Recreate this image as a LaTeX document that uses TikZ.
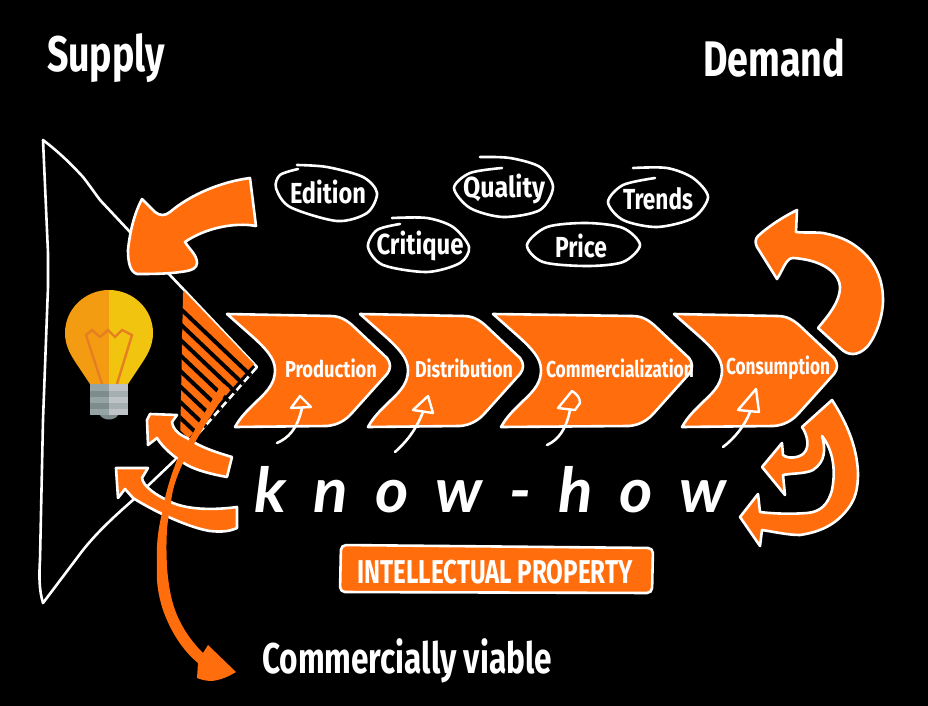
\documentclass[tikz,border=0pt]{standalone}
\usepackage{fontspec}
\usepackage{graphicx}
\setmainfont{Fira Sans}[UprightFont=* Medium,BoldFont=* Bold]
\newfontfamily\kh{Lato}
\newcommand{\fitw}[2]{\resizebox{#1}{\height}{\bfseries #2}}
\definecolor{brandorange}{HTML}{FF6D0D}
\definecolor{bulbL}{HTML}{F39C12}
\definecolor{bulbR}{HTML}{F1C40F}
\definecolor{filament}{HTML}{E67E22}
\definecolor{baseA}{HTML}{95A5A6}
\definecolor{baseB}{HTML}{7F8C8D}
\definecolor{baseC}{HTML}{BDC3C7}
\definecolor{baseD}{HTML}{A6AFB1}
\tikzset{
  blob/.style={fill=brandorange,draw=white,line width=2.6pt,line join=round},
  hairline/.style={draw=white,line width=2.6pt,line cap=round,line join=round},
  tipshape/.style={draw=white,line width=2.4pt,line join=round,fill=brandorange},
  lbl/.style={text=white,inner sep=0pt,font=\fontsize{29}{30}\selectfont},
  stagelbl/.style={text=white,inner sep=0pt,font=\fontsize{23}{24}\selectfont},
  headlbl/.style={text=white,inner sep=0pt,font=\fontsize{50}{52}\selectfont},
  ring/.style={draw=white,line width=2.6pt,line cap=round},
}
% #1 left offset, #2 right offset
\newcommand{\chevron}[2]{%
  \draw[blob] (#1,314) -- ({#2+103},316) .. controls ({#2+112},316) and ({#2+118},319) .. ({#2+125},325)
    -- ({#2+160},358) .. controls ({#2+164},363) and ({#2+164},369) .. ({#2+160},374)
    -- ({#2+125},413) .. controls ({#2+118},421) and ({#2+110},425) .. ({#2+100},426)
    -- ({#1+8},427) .. controls ({#1+14},416) and ({#1+22},409) .. ({#1+30},401)
    .. controls ({#1+42},390) and ({#1+48},382) .. ({#1+48},370)
    .. controls ({#1+48},358) and ({#1+38},348) .. ({#1+26},337) -- cycle;}
\begin{document}
\begin{tikzpicture}[x=1pt,y=-1pt]
\useasboundingbox (0,0) rectangle (928,706);
\fill[black] (0,0) rectangle (928,706);
% funnel outline
\draw[hairline] (43,140) .. controls (60,153) and (72,165) .. (83,177) .. controls (90,186) and (94,192) .. (100,200) -- (130,232) -- (168,273) -- (257,367) -- (177,458) -- (133,500) .. controls (110,520) and (95,535) .. (83,550) -- (43,603) .. controls (39,590) and (39,575) .. (40,560) -- (43,420) -- (48,287) -- (48,253) -- cycle;
% hatched neck
\fill[brandorange] (183,293) -- (184,291) -- (254,364) -- (250,368) -- (180,448) -- cycle;
\begin{scope}
\clip (185,290) -- (255,363) -- (258,368) -- (170,468) -- (182,300) -- cycle;
\clip (182,300) -- (250,366) -- (258,370) -- (175,465) -- (180,440) -- cycle;
\foreach \k in {0,...,10} \fill[black] (170,{296+\k*15.6}) -- (270,{391+\k*15.6}) -- (270,{396.5+\k*15.6}) -- (170,{301.5+\k*15.6}) -- cycle;
\end{scope}
% bulb
\fill[bulbL] (109,290) .. controls (85,290) and (65,309) .. (65,333) .. controls (65,345) and (70,354) .. (76,363) -- (90,384) -- (109,384) -- cycle;
\fill[bulbR] (109,290) .. controls (133,290) and (153,309) .. (153,333) .. controls (153,345) and (148,354) .. (142,363) -- (128,384) -- (109,384) -- cycle;
\draw[filament,line width=2.4pt,line join=miter] (102,384) -- (86,335) -- (92,330) -- (100,337) -- (108,330) -- (115,337) -- (122,330) -- (132,335) -- (117,384);
\fill[baseB] (100,415) -- (118,415) .. controls (115,421) and (103,421) .. (100,415) -- cycle;
\fill[baseA] (90,384) rectangle (109,391);
\fill[baseB] (90,391) rectangle (109,397);
\fill[baseA] (90,397) rectangle (109,403);
\fill[baseB] (90,403) rectangle (109,409);
\fill[baseA] (90,409) rectangle (109,415);
\fill[baseC] (109,384) rectangle (128,391);
\fill[baseD] (109,391) rectangle (128,397);
\fill[baseC] (109,397) rectangle (128,403);
\fill[baseD] (109,403) rectangle (128,409);
\fill[baseC] (109,409) rectangle (128,415);
% supply arrow from the top
\draw[blob] (250,178) -- (256,226) .. controls (235,222) and (205,228) .. (185,242) .. controls (190,250) and (197,255) .. (197,263) .. controls (197,268) and (192,270) .. (187,271) .. controls (170,274) and (152,274) .. (137,274) .. controls (130,272) and (128,262) .. (128,250) .. controls (130,230) and (135,212) .. (142,199) -- (155,212) .. controls (160,216) and (165,216) .. (170,212) .. controls (190,195) and (220,182) .. (250,178) -- cycle;
% two small return arrows
\draw[blob] (232,457) -- (227,477) .. controls (210,474) and (196,470) .. (187,465) .. controls (175,458) and (163,448) .. (157,438) -- (148,445) -- (147,420) -- (150,414) -- (177,415) -- (172,422) .. controls (173,430) and (180,435) .. (187,438) .. controls (200,447) and (215,452) .. (232,457) -- cycle;
\draw[blob] (237,507) -- (237,528) .. controls (228,532) and (220,532) .. (210,531) .. controls (190,528) and (155,512) .. (133,498) -- (125,489) -- (118,498) -- (116,468) -- (148,468) -- (142,478) .. controls (143,486) and (155,495) .. (173,503) .. controls (190,510) and (215,510) .. (237,507) -- cycle;
% long arrow to commercially viable
\fill[brandorange] (222,383) -- (229,388) -- (205,425) -- (183,463) .. controls (176,478) and (172,490) .. (171,503) .. controls (166,525) and (166,545) .. (167,567) .. controls (168,580) and (170,595) .. (174,607) .. controls (180,625) and (190,640) .. (203,653) -- (208,645) -- (236,672) .. controls (228,677) and (220,680) .. (212,681) .. controls (207,681) and (202,680) .. (197,678) -- (198,663) .. controls (182,650) and (170,630) .. (163,610) .. controls (158,595) and (156,580) .. (157,567) .. controls (156,545) and (158,530) .. (162,513) .. controls (165,495) and (170,478) .. (177,460) -- (193,433) -- cycle;
% chevrons
\chevron{227}{227}
\chevron{360}{360}
\chevron{493}{529}
\chevron{674}{674}
% stage labels
\node[stagelbl] (production) at (331,368) {\fitw{92pt}{Production}};
\node[stagelbl] (distribution) at (464,368) {\fitw{98pt}{Distribution}};
\node[stagelbl] (commercialization) at (620,368) {\fitw{148pt}{Commercialization}};
\node[stagelbl] (consumption) at (778,368) {\fitw{104pt}{Consumption}};
% small white arrows
\draw[hairline] (277,443) .. controls (288,438) and (297,430) .. (302,408);
\draw[tipshape] (300,396) -- (311,407) -- (291,408) -- cycle;
\draw[hairline] (395,452) .. controls (405,443) and (415,432) .. (423,412);
\draw[tipshape] (428,396) -- (433,413) -- (413,410) -- cycle;
\draw[hairline] (547,445) .. controls (558,440) and (566,430) .. (570,410);
\draw[tipshape] (572,391) .. controls (577,394) and (580,398) .. (580,403) -- (575,410) -- (558,408) -- cycle;
\draw[hairline] (723,447) .. controls (735,438) and (745,425) .. (750,412);
\draw[tipshape] (756,389) -- (759,412) -- (738,410) -- cycle;
% right upper arrow
\draw[blob] (797,210) -- (796,232) .. controls (805,233) and (815,232) .. (823,233) .. controls (838,236) and (848,240) .. (857,247) .. controls (872,258) and (883,275) .. (883,300) .. controls (883,315) and (877,335) .. (867,347) .. controls (862,352) and (857,354) .. (853,354) .. controls (848,354) and (844,352) .. (840,348) -- (818,328) .. controls (826,318) and (840,303) .. (840,287) .. controls (840,275) and (825,260) .. (793,258) .. controls (786,258) and (783,270) .. (777,279) -- (757,247) .. controls (755,243) and (755,239) .. (758,236) .. controls (770,225) and (785,216) .. (797,210) -- cycle;
% right lower double arrow
\draw[blob] (832,400) .. controls (845,420) and (857,445) .. (858,473) .. controls (858,490) and (855,500) .. (847,510) .. controls (835,525) and (820,532) .. (800,535) .. controls (788,535) and (775,532) .. (762,530) -- (760,546) -- (740,517) -- (758,494) -- (760,512) .. controls (775,514) and (795,514) .. (807,513) .. controls (820,512) and (828,505) .. (832,490) .. controls (836,470) and (833,450) .. (822,436) .. controls (826,450) and (825,462) .. (813,470) .. controls (805,474) and (793,473) .. (783,475) -- (785,495) -- (762,467) -- (782,443) -- (783,455) .. controls (788,459) and (798,458) .. (803,454) .. controls (810,448) and (808,436) .. (802,427) -- cycle;
% rings
\draw[ring] plot[smooth] coordinates {(298,169) (280,175) (276,188) (290,207) (337,221) (367,213) (377,193) (363,177) (327,167) (297,165)};
\draw[ring] plot[smooth] coordinates {(400,224) (377,230) (368,247) (383,265) (427,272) (460,263) (469,247) (453,227) (427,218) (392,218)};
\draw[ring] plot[smooth] coordinates {(502,168) (470,173) (454,188) (470,208) (503,217) (540,210) (553,187) (540,167) (510,158) (480,157)};
\draw[ring] plot[smooth cycle] coordinates {(527,245) (547,227) (587,223) (623,228) (640,245) (623,262) (587,266) (543,262)};
\draw[ring] plot[smooth] coordinates {(655,178) (623,185) (608,202) (623,220) (657,227) (693,218) (708,197) (693,178) (667,168) (633,168)};
\node[lbl] (edition) at (328,192) {\fitw{76pt}{Edition}};
\node[lbl] (critique) at (420,246) {\fitw{87pt}{Critique}};
\node[lbl] (quality) at (504,189) {\fitw{82pt}{Quality}};
\node[lbl] (price) at (581,246) {\fitw{52pt}{Price}};
\node[lbl] (trends) at (658,199) {\fitw{70pt}{Trends}};
% headings
\node[headlbl] (supply) at (106,58) {\fitw{118pt}{Supply}};
\node[headlbl] (demand) at (774,58) {\fitw{142pt}{Demand}};
\node[text=white,inner sep=0pt,font=\fontsize{43}{45}\selectfont] (viable) at (407,661) {\fitw{290pt}{Commercially viable}};
% know-how
\node[text=white,inner sep=0pt,anchor=base,font=\fontsize{62}{64}\selectfont] (knowhow) at (491,512) {\resizebox{472pt}{\height}{\kh\bfseries\itshape\spaceskip=0.42em k n o w - h o w}};
% intellectual property
\draw[blob,rounded corners=5pt] (341,545) -- (653,548) -- (652,593) -- (340,592) -- cycle;
\node[text=white,inner sep=0pt,font=\fontsize{33}{35}\selectfont] (ip) at (495,572) {\fitw{275pt}{INTELLECTUAL PROPERTY}};
\end{tikzpicture}
\end{document}
